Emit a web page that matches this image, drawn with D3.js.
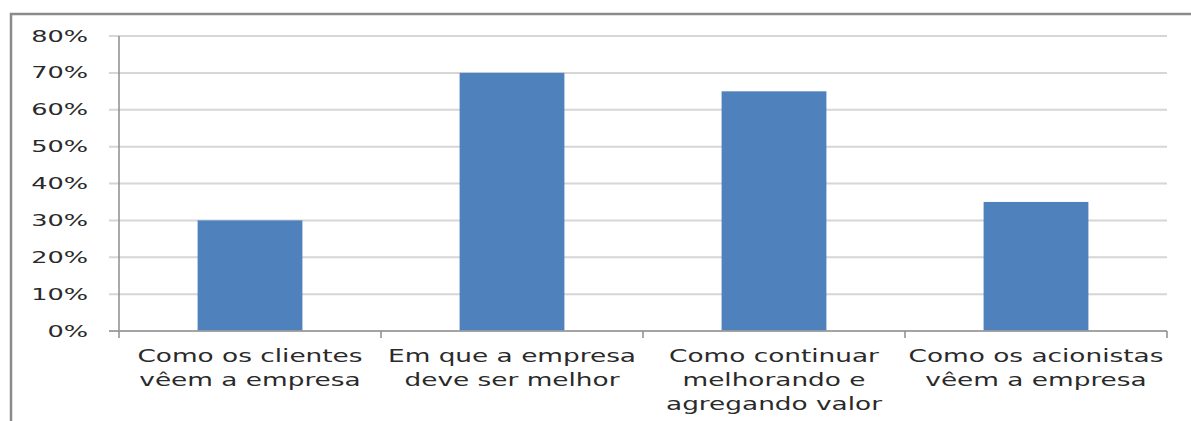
<!DOCTYPE html>
<html>
<head>
<meta charset="utf-8">
<script src="https://cdn.jsdelivr.net/npm/d3@7"></script>
<style>
  html, body { margin: 0; padding: 0; background: #fff; }
  svg { display: block; }
  text { font-family: "DejaVu Sans", sans-serif; fill: #2a2a2a; }
</style>
</head>
<body>
<svg id="chart" width="1191" height="421"></svg>
<script>
// Categories (each label split into its display lines)
const categories = [
  ["Como os clientes", "vêem a empresa"],
  ["Em que a empresa", "deve ser melhor"],
  ["Como continuar", "melhorando e", "agregando valor"],
  ["Como os acionistas", "vêem a empresa"]
];
const values = [0.30, 0.70, 0.65, 0.35];
const yTicks = [0, 0.1, 0.2, 0.3, 0.4, 0.5, 0.6, 0.7, 0.8];

const svg = d3.select("#chart");
const W = 1191, H = 421;
const margin = { left: 119, right: 24, top: 36, bottom: 90 };
const plotW = W - margin.left - margin.right;
const plotH = H - margin.top - margin.bottom;

// Outer chart frame (left and top edges visible)
svg.append("path")
  .attr("d", `M11,${H} L11,14 L${W},14`)
  .attr("fill", "none")
  .attr("stroke", "#8a8a8a")
  .attr("stroke-width", 2.5);

const g = svg.append("g").attr("transform", `translate(${margin.left},${margin.top})`);

const x = d3.scaleBand()
  .domain(d3.range(categories.length))
  .range([0, plotW])
  .paddingInner(0)
  .paddingOuter(0);

const y = d3.scaleLinear().domain([0, 0.8]).range([plotH, 0]);

// Horizontal gridlines with short left ticks
g.append("g")
  .selectAll("line")
  .data(yTicks)
  .join("line")
  .attr("x1", -10)
  .attr("x2", plotW)
  .attr("y1", d => y(d))
  .attr("y2", d => y(d))
  .attr("stroke", d => d === 0 ? "#b0b0b0" : "#d6d6d6")
  .attr("stroke-width", 2);

// Y tick labels
const ySx = 1.6;
g.append("g")
  .selectAll("text")
  .data(yTicks)
  .join("text")
  .attr("transform", d => `translate(-31,${y(d)}) scale(${ySx},1)`)
  .attr("text-anchor", "end")
  .attr("dy", "0.35em")
  .style("font-size", "16px")
  .text(d3.format(".0%"));

// Bars
const barFrac = 0.4;
g.append("g")
  .selectAll("rect")
  .data(values)
  .join("rect")
  .attr("x", (d, i) => x(i) + x.bandwidth() * (1 - barFrac) / 2)
  .attr("width", x.bandwidth() * barFrac)
  .attr("y", d => y(d))
  .attr("height", d => y(0) - y(d))
  .attr("fill", "#4f81bd");

// Axes lines
g.append("line")
  .attr("x1", 0).attr("x2", 0)
  .attr("y1", 0).attr("y2", plotH)
  .attr("stroke", "#8c8c8c").attr("stroke-width", 1.5);

g.append("line")
  .attr("x1", -10).attr("x2", plotW)
  .attr("y1", plotH).attr("y2", plotH)
  .attr("stroke", "#a0a0a0").attr("stroke-width", 1.5);

// Category boundary ticks
g.append("g")
  .selectAll("line")
  .data(d3.range(categories.length + 1))
  .join("line")
  .attr("x1", i => i * x.bandwidth())
  .attr("x2", i => i * x.bandwidth())
  .attr("y1", plotH)
  .attr("y2", plotH + 7)
  .attr("stroke", "#8c8c8c")
  .attr("stroke-width", 1.5);

// Category labels
const xSx = 1.55;
const labels = g.append("g")
  .selectAll("g")
  .data(categories)
  .join("g")
  .attr("transform", (d, i) => `translate(${x(i) + x.bandwidth() / 2},${plotH + 25}) scale(${xSx},1)`);

labels.selectAll("text")
  .data(d => d)
  .join("text")
  .attr("text-anchor", "middle")
  .attr("y", (d, j) => j * 24)
  .attr("dy", "0.35em")
  .style("font-size", "17px")
  .text(d => d);
</script>
</body>
</html>
